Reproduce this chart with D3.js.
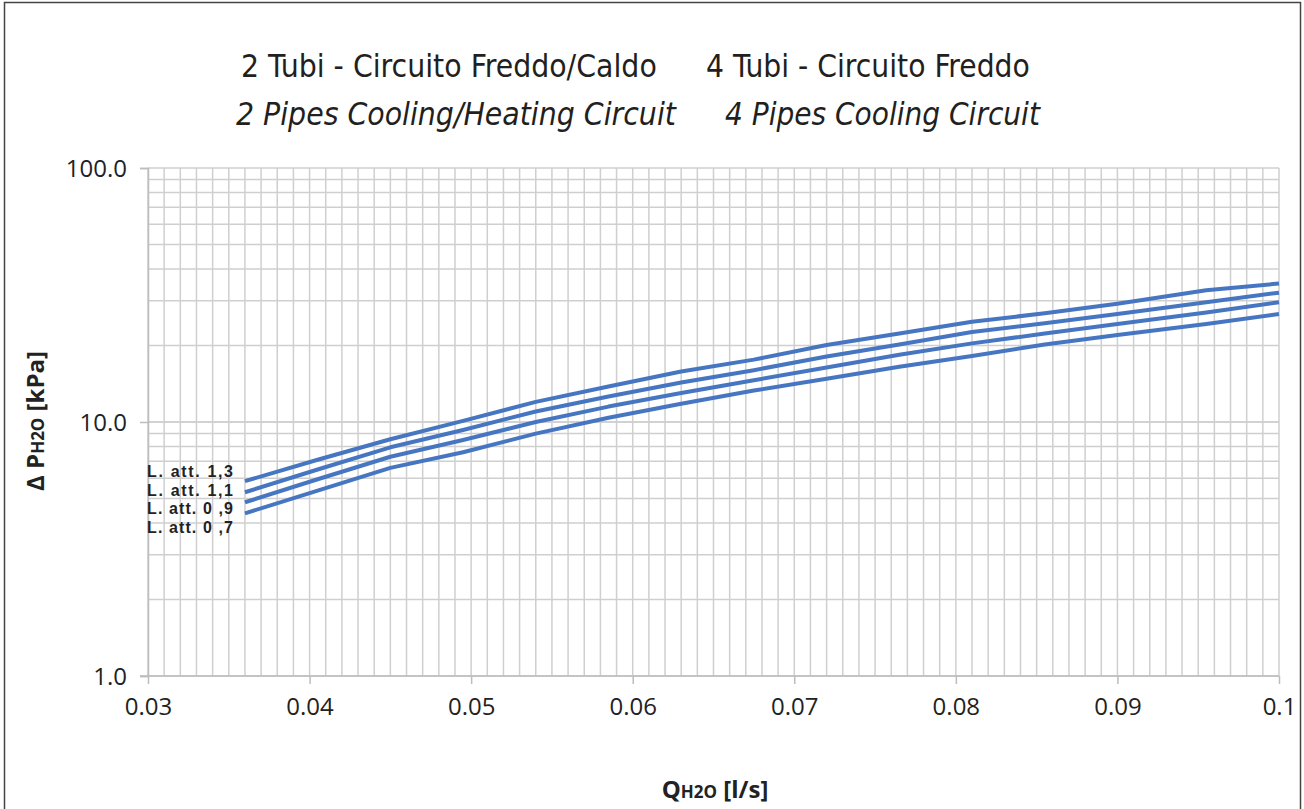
<!DOCTYPE html>
<html>
<head>
<meta charset="utf-8">
<script src="https://d3js.org/d3.v7.min.js"></script>
<style>
body { margin: 0; background: #fff; }
svg { display: block; }
.title { font-family: "Liberation Sans Narrow", "DejaVu Sans Condensed", "Roboto", sans-serif; fill: #231f20; }
.tick-label { font-family: "Open Sans", sans-serif; font-size: 24px; fill: #222; }
.axis-title { font-family: "Open Sans", sans-serif; font-weight: bold; fill: #222; }
.curve-label { font-family: "Liberation Sans", "Arial", sans-serif; font-weight: bold; font-size: 16px; fill: #222; }
</style>
</head>
<body>
<svg id="chart" width="1304" height="809"></svg>
<script>
// flow rate [l/s]
const flow = [0.036, 0.0405, 0.045, 0.0495, 0.054, 0.0585, 0.063, 0.0675, 0.072, 0.0765, 0.081, 0.0855, 0.09, 0.0955, 0.1];

// pressure drop [kPa] per lenght factor
const att13 = [5.85, 7.1, 8.55, 10.1, 12.0, 13.8, 15.8, 17.6, 20.1, 22.3, 24.8, 26.8, 29.2, 33.0, 35.1];
const att11 = [5.29, 6.5, 7.95, 9.3, 11.0, 12.6, 14.3, 16.0, 18.1, 20.2, 22.6, 24.5, 26.6, 29.6, 32.3];
const att09 = [4.83, 5.95, 7.3, 8.5, 10.0, 11.5, 13.0, 14.6, 16.4, 18.4, 20.4, 22.3, 24.3, 27.0, 29.6];
const att07 = [4.37, 5.37, 6.6, 7.6, 9.0, 10.4, 11.8, 13.3, 14.8, 16.5, 18.2, 20.2, 22.0, 24.3, 26.6];

const curveLabels = ['L. att. 1,3', 'L. att. 1,1', 'L. att. 0 ,9', 'L. att. 0 ,7'];

const xTicks = [0.03, 0.04, 0.05, 0.06, 0.07, 0.08, 0.09, 0.1];
const yTicks = [1, 10, 100];

const titleIt = ['2 Tubi - Circuito Freddo/Caldo', '4 Tubi - Circuito Freddo'];
const titleEn = ['2 Pipes Cooling/Heating Circuit', '4 Pipes Cooling Circuit'];

const plotLeft = 148, plotRight = 1279, plotTop = 168, plotBottom = 676;
const lineColor = '#4676c2';
const gridColor = '#cfcfcf';

const svg = d3.select('#chart');

const x = d3.scaleLinear().domain([0.03, 0.1]).range([plotLeft, plotRight]);
const y = d3.scaleLog().domain([1, 100]).range([plotBottom, plotTop]);

// outer frame
svg.append('rect')
  .attr('x', 4.5).attr('y', 2.5)
  .attr('width', 1296).attr('height', 820)
  .attr('fill', 'none')
  .attr('stroke', '#444')
  .attr('stroke-width', 1.5);

// grid
const xMinor = d3.range(0, 71).map(i => 0.03 + i * 0.001);
const yMinor = [];
[1, 10].forEach(d => { for (let k = 1; k <= 10; k++) yMinor.push(d * k); });

const grid = svg.append('g');
grid.selectAll('.vg')
  .data(xMinor)
  .enter()
  .append('line')
  .attr('x1', d => x(d)).attr('x2', d => x(d))
  .attr('y1', plotTop).attr('y2', plotBottom)
  .attr('stroke', gridColor)
  .attr('stroke-width', 1.5);

grid.selectAll('.hg')
  .data(yMinor)
  .enter()
  .append('line')
  .attr('x1', plotLeft).attr('x2', plotRight)
  .attr('y1', d => y(d)).attr('y2', d => y(d))
  .attr('stroke', gridColor)
  .attr('stroke-width', 1.5);

// axes
const xAxis = svg.append('g')
  .attr('transform', `translate(0,${plotBottom})`)
  .call(d3.axisBottom(x).tickValues(xTicks).tickSize(8).tickPadding(14).tickFormat(d => d === 0.1 ? '0.1' : d3.format('.2f')(d)));

const yAxis = svg.append('g')
  .attr('transform', `translate(${plotLeft},0)`)
  .call(d3.axisLeft(y).tickValues(yTicks).tickSize(8).tickPadding(13).tickFormat(d3.format('.1f')));

[xAxis, yAxis].forEach(a => {
  a.select('.domain').attr('stroke', '#bdbdbd').attr('stroke-width', 1.5);
  a.selectAll('.tick line').attr('stroke', '#bdbdbd').attr('stroke-width', 1.5);
  a.selectAll('.tick text').attr('class', 'tick-label');
  a.attr('font-size', null).attr('font-family', null);
});
xAxis.select('.domain').attr('d', `M${plotLeft - 8},0H${plotRight}`);
yAxis.selectAll('.tick text').attr('dy', '0.36em');

// curves
const series = [att13, att11, att09, att07];
const line = d3.line()
  .x((d, i) => x(flow[i]))
  .y(d => y(d));

svg.append('g')
  .selectAll('path')
  .data(series)
  .enter()
  .append('path')
  .attr('d', line)
  .attr('fill', 'none')
  .attr('stroke', lineColor)
  .attr('stroke-width', 4)
  .attr('stroke-linejoin', 'round');

// curve labels
svg.append('g')
  .selectAll('text')
  .data(curveLabels)
  .enter()
  .append('text')
  .attr('class', 'curve-label')
  .attr('x', 147)
  .attr('y', (d, i) => 477 + i * 18.7)
  .attr('textLength', 86)
  .attr('lengthAdjust', 'spacing')
  .text(d => d);

// titles, sized to the widths in the picture
const fitText = (sel, width) => {
  const base = 30;
  sel.attr('font-size', base);
  const w = sel.node().getComputedTextLength();
  sel.attr('font-size', base * width / w);
};

const titleRows = [
  { texts: titleIt, xs: [241, 706], ws: [416, 324], y: 77, italic: false },
  { texts: titleEn, xs: [236, 725], ws: [440, 315], y: 125, italic: true }
];

titleRows.forEach(row => {
  row.texts.forEach((t, i) => {
    const el = svg.append('text')
      .attr('class', 'title')
      .attr('x', row.xs[i])
      .attr('y', row.y)
      .style('font-style', row.italic ? 'italic' : 'normal')
      .text(t);
    fitText(el, row.ws[i]);
  });
});

// axis titles
const xt = svg.append('text')
  .attr('class', 'axis-title')
  .attr('x', 715)
  .attr('y', 798)
  .attr('text-anchor', 'middle')
  .attr('font-size', 24);
xt.append('tspan').text('Q');
xt.append('tspan').attr('font-size', 17).text('H2O');
xt.append('tspan').text(' [l/s]');

const yt = svg.append('text')
  .attr('class', 'axis-title')
  .attr('transform', 'translate(44,421) rotate(-90)')
  .attr('text-anchor', 'middle')
  .attr('font-size', 24);
yt.append('tspan').text('Δ P');
yt.append('tspan').attr('font-size', 17).text('H2O');
yt.append('tspan').text(' [kPa]');
</script>
</body>
</html>
